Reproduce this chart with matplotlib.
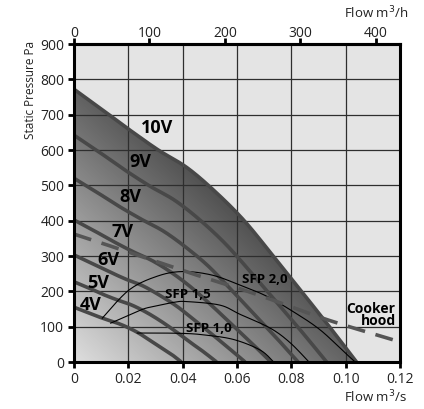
import numpy as np
import matplotlib
matplotlib.use("Agg")
import matplotlib.pyplot as plt
from matplotlib.colors import LinearSegmentedColormap

plt.rcParams['font.family'] = ['Open Sans', 'DejaVu Sans']

# fan curves per control voltage: flow m3/s, static pressure Pa
q_4v = [0, 0.004, 0.008, 0.012, 0.016, 0.020, 0.024, 0.028, 0.032, 0.036, 0.0395]
p_4v = [155, 143, 131, 120, 110, 97, 81, 61, 41, 21, 0]
q_5v = [0, 0.0053, 0.0105, 0.0158, 0.021, 0.0263, 0.0315, 0.0368, 0.042, 0.0473, 0.0525]
p_5v = [227, 210, 192, 176, 162, 142, 118, 90, 60, 31, 0]
q_6v = [0, 0.0063, 0.0126, 0.0189, 0.0252, 0.0315, 0.0378, 0.0441, 0.0504, 0.0567, 0.063]
p_6v = [303, 280, 257, 235, 216, 189, 158, 120, 81, 41, 0]
q_7v = [0, 0.0073, 0.0145, 0.0218, 0.029, 0.0363, 0.0435, 0.0508, 0.058, 0.0653, 0.0725]
p_7v = [402, 372, 341, 312, 286, 251, 209, 159, 107, 54, 0]
q_8v = [0, 0.0083, 0.0165, 0.0248, 0.033, 0.0413, 0.0495, 0.0578, 0.066, 0.0743, 0.0825]
p_8v = [520, 481, 441, 404, 370, 324, 271, 205, 138, 70, 0]
q_9v = [0, 0.0093, 0.0186, 0.0279, 0.0372, 0.0465, 0.0558, 0.0651, 0.0744, 0.0837, 0.093]
p_9v = [642, 594, 544, 498, 457, 401, 334, 254, 171, 87, 0]
q_10v = [0, 0.0104, 0.0208, 0.0312, 0.0416, 0.052, 0.0624, 0.0728, 0.0832, 0.0936, 0.104]
p_10v = [772, 714, 655, 599, 550, 482, 402, 305, 205, 104, 0]

volt_labels = ["4V", "5V", "6V", "7V", "8V", "9V", "10V"]
label_q = [0.0063, 0.0088, 0.0125, 0.0177, 0.0206, 0.0243, 0.0306]
label_p = [161, 223, 288, 368, 467, 566, 662]

# specific fan power lines
q_sfp10 = [0.0233, 0.030, 0.040, 0.0475, 0.0586, 0.0685, 0.0735]
p_sfp10 = [82, 82, 81, 77, 64, 34, 0]
q_sfp15 = [0.0135, 0.0245, 0.0292, 0.0368, 0.0415, 0.0537, 0.0611, 0.0722, 0.0795, 0.0865]
p_sfp15 = [110, 147, 157, 169, 171, 161, 135, 96, 55, 0]
q_sfp20 = [0.0104, 0.0203, 0.0307, 0.040, 0.0508, 0.061, 0.0707, 0.0808, 0.0906, 0.0999, 0.1035]
p_sfp20 = [124, 204, 243, 256, 246, 218, 187, 142, 91, 25, 0]
sfp_labels = ["SFP 1,0", "SFP 1,5", "SFP 2,0"]
sfp_label_q = [0.0498, 0.0421, 0.0703]
sfp_label_p = [95, 192, 234]

# cooker hood system curve
q_hood = [0, 0.01, 0.02, 0.03, 0.04, 0.05, 0.06, 0.07, 0.08, 0.09, 0.10, 0.11, 0.12]
p_hood = [362, 337, 311, 285, 259, 234, 210, 184, 156, 128, 103, 80, 57]


def smooth(x, y, n=24):
    # Catmull-Rom through the read points
    pts = np.column_stack([x, y]).astype(float)
    p = np.vstack([pts[0], pts, pts[-1]])
    t = np.linspace(0, 1, n, endpoint=False)[:, None]
    out = []
    for i in range(1, len(p) - 2):
        p0, p1, p2, p3 = p[i - 1], p[i], p[i + 1], p[i + 2]
        out.append(0.5 * (2 * p1 + (-p0 + p2) * t
                          + (2 * p0 - 5 * p1 + 4 * p2 - p3) * t ** 2
                          + (-p0 + 3 * p1 - 3 * p2 + p3) * t ** 3))
    out.append(pts[-1:])
    s = np.vstack(out)
    return s[:, 0], s[:, 1]


fig = plt.figure(figsize=(4.24, 4.09), dpi=100)
ax = fig.add_axes([74 / 424, 47 / 409, 326 / 424, 318 / 409])
ax.set_xlim(0, 0.12)
ax.set_ylim(0, 900)
ax.set_facecolor('#e4e4e4')

# shaded operating area under the 10V curve
qx, px = smooth(q_10v, p_10v)
gq, gp = np.meshgrid(np.linspace(0, 0.12, 300), np.linspace(0, 900, 300))
val = gq / 0.104 + gp / 772
cmap = LinearSegmentedColormap.from_list('g', ['#dedede', '#424242'])
im = ax.imshow(val, extent=[0, 0.12, 0, 900], origin='lower', aspect='auto',
               cmap=cmap, vmin=0, vmax=1.25, zorder=1, interpolation='bilinear')
poly = plt.Polygon(np.column_stack([np.r_[qx, 0], np.r_[px, 0]]),
                   closed=True, facecolor='none', edgecolor='none', transform=ax.transData)
ax.add_patch(poly)
im.set_clip_path(poly)

ax.set_xticks(np.arange(0, 0.121, 0.02))
ax.set_yticks(np.arange(0, 901, 100))
ax.grid(True, color='#2e2e2e', lw=0.9)
for ln in ax.get_xgridlines() + ax.get_ygridlines():
    ln.set_zorder(2)

curves = [(q_4v, p_4v), (q_5v, p_5v), (q_6v, p_6v), (q_7v, p_7v),
          (q_8v, p_8v), (q_9v, p_9v), (q_10v, p_10v)]
for q, p in curves:
    sx, sy = smooth(q, p)
    ax.plot(sx, sy, color='#484848', lw=2.6, solid_capstyle='butt', zorder=4)

for q, p in [(q_sfp10, p_sfp10), (q_sfp15, p_sfp15), (q_sfp20, p_sfp20)]:
    sx, sy = smooth(q, p)
    ax.plot(sx, sy, color='black', lw=0.8, zorder=5)

hx, hy = smooth(q_hood, p_hood)
ax.plot(hx, hy, color='#555555', lw=2.6, dashes=(5, 3), zorder=6)

for lab, x, y in zip(volt_labels, label_q, label_p):
    ax.text(x, y, lab, fontsize=13, fontweight='bold', ha='center', va='center', zorder=7)
for lab, x, y in zip(sfp_labels, sfp_label_q, sfp_label_p):
    ax.text(x, y, lab, fontsize=9.5, fontweight='bold', ha='center', va='center', zorder=7)
ax.text(0.1184, 133, "Cooker\nhood", fontsize=10, fontweight='bold', ha='right',
        va='center', linespacing=0.85, zorder=7)

for s in ax.spines.values():
    s.set_linewidth(2.2)
    s.set_color('black')
    s.set_zorder(8)

ax.set_xticklabels(["0", "0.02", "0.04", "0.06", "0.08", "0.10", "0.12"])
ax.tick_params(axis='both', direction='out', length=4, width=2, labelsize=10,
               colors='black', labelcolor='#222222', pad=3)

top = ax.secondary_xaxis('top', functions=(lambda q: q * 3600, lambda h: h / 3600))
top.set_xticks([0, 100, 200, 300, 400])
top.tick_params(direction='out', length=4, width=2, labelsize=10, labelcolor='#222222', pad=-2)
top.spines['top'].set_linewidth(2.2)

fig.text(30 / 424, 1 - 90 / 409, "Static Pressure Pa", rotation=90, fontsize=8.5,
         ha='center', va='center', color='#222222')
fig.text(376 / 424, 1 - 13 / 409, "Flow m$^3$/h", fontsize=9.5, ha='center',
         va='center', color='#222222')
fig.text(376 / 424, 1 - 397 / 409, "Flow m$^3$/s", fontsize=9.5, ha='center',
         va='center', color='#222222')

fig.savefig("out.png", dpi=100)
